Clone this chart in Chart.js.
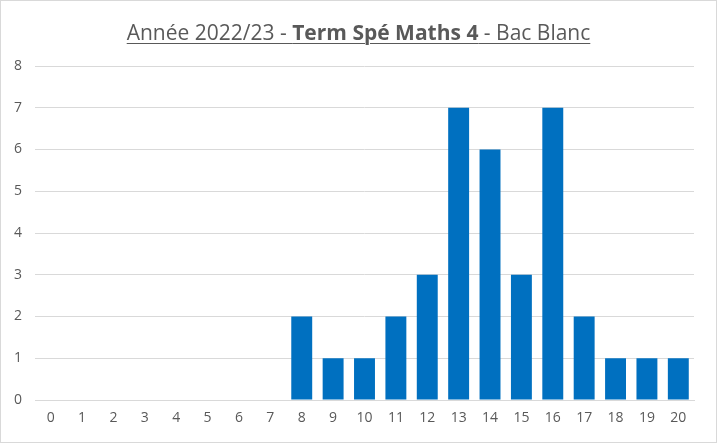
<!DOCTYPE html>
<html>
<head>
<meta charset="utf-8">
<script src="https://cdn.jsdelivr.net/npm/chart.js@4"></script>
<style>
  html, body { margin: 0; padding: 0; background: #fff; }
  #wrap { position: relative; width: 715px; height: 441px; border: 1px solid #d9d9d9; }
  #title {
    position: absolute; left: 0; right: 0; top: 17px; text-align: center;
    font-family: "Open Sans", sans-serif; font-size: 21px; color: #595959;
  }
  #title u { text-underline-offset: 3px; text-decoration-thickness: 1px; }
  canvas { position: absolute; left: 0; top: 0; }
</style>
</head>
<body>
<div id="wrap">
  <canvas id="chart" width="715" height="441"></canvas>
  <div id="title"><u>Année 2022/23 - <b>Term Spé Maths 4</b> - Bac Blanc</u></div>
</div>
<script>
// notes (0 à 20) et nombre d'élèves
var notes = ['0','1','2','3','4','5','6','7','8','9','10','11','12','13','14','15','16','17','18','19','20'];
var effectifs = [0,0,0,0,0,0,0,0,2,1,1,2,3,7,6,3,7,2,1,1,1];
var yTicks = [0,1,2,3,4,5,6,7,8];

var ctx = document.getElementById('chart').getContext('2d');
new Chart(ctx, {
	type: 'bar',
	data: {
		labels: notes,
		datasets: [{
			label: 'Effectif',
			data: effectifs,
			backgroundColor: '#0070C0',
			borderWidth: 0,
			barPercentage: 0.667,
			categoryPercentage: 1
		}]
	},
	options: {
		responsive: false,
		animation: false,
		layout: { padding: { top: 65, right: 22, left: 0, bottom: 0 } },
		plugins: {
			legend: { display: false },
			tooltip: { enabled: false }
		},
		scales: {
			x: {
				grid: { display: false, drawTicks: false },
				border: { display: true, color: '#d9d9d9', width: 1 },
				ticks: {
					color: '#595959',
					font: { family: 'Open Sans', size: 14 },
					padding: 10,
					maxRotation: 0,
					autoSkip: false
				},
				afterFit: function(scale) { scale.height = 42; }
			},
			y: {
				min: 0,
				max: 8,
				afterBuildTicks: function(scale) {
					scale.ticks = yTicks.map(function(v) { return { value: v }; });
				},
				grid: { color: '#d9d9d9', drawTicks: false },
				border: { display: false },
				ticks: {
					color: '#595959',
					font: { family: 'Open Sans', size: 14 },
					padding: 13
				},
				afterFit: function(scale) { scale.width = 34; }
			}
		}
	}
});
</script>
</body>
</html>
